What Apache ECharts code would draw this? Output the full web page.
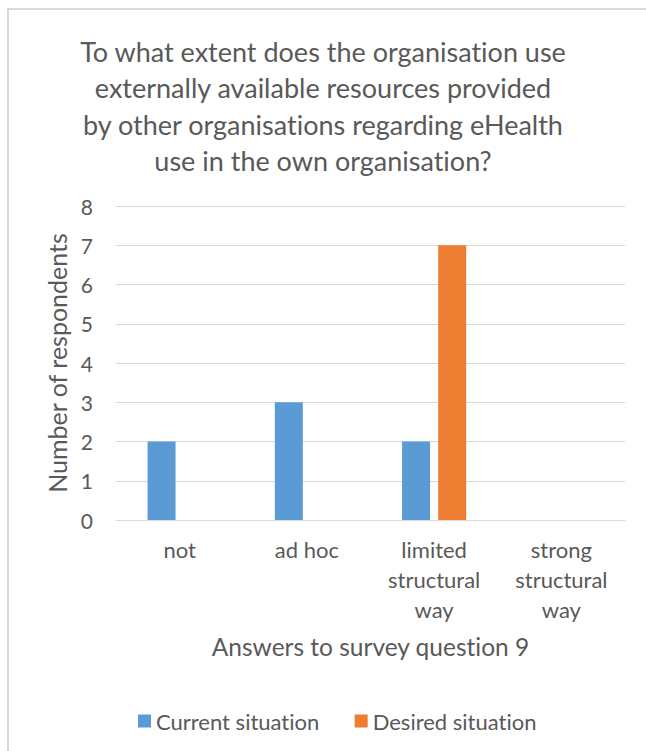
<!DOCTYPE html>
<html>
<head>
<meta charset="utf-8">
<title>eHealth survey question 9</title>
<script src="https://cdn.jsdelivr.net/npm/echarts@6/dist/echarts.min.js"></script>
<style>
  html, body { margin: 0; padding: 0; background: #fff; overflow: hidden; width: 646px; height: 751px; }
  #frame {
    position: absolute; left: 7px; top: 8px; width: 639px; height: 743px;
    border-top: 2px solid #d9d9d9; border-left: 2px solid #d9d9d9;
    box-sizing: border-box;
  }
  #chart { position: absolute; left: 0; top: 0; width: 646px; height: 751px; }
  #chart text { font-variant-ligatures: none; }
</style>
</head>
<body>
<div id="frame"></div>
<div id="chart"></div>
<script>
// data
var categories = ['not', 'ad hoc', 'limited\nstructural\nway', 'strong\nstructural\nway'];
var currentSituation = [2, 3, 2, 0];
var desiredSituation = [0, 0, 7, 0];
var seriesNames = ['Current situation', 'Desired situation'];

var textColor = '#595959';
var fontName = 'Lato';

var myChart = echarts.init(document.getElementById('chart'), null, { renderer: 'svg' });

var option = {
  textStyle: { fontFamily: fontName, color: textColor },
  title: {
    text: 'To what extent does the organisation use\nexternally available resources provided\nby other organisations regarding eHealth\nuse in the own organisation?',
    left: 'center',
    top: 28,
    textStyle: {
      fontFamily: fontName,
      fontSize: 27,
      fontWeight: 'normal',
      color: textColor,
      lineHeight: 36.5
    }
  },
  legend: {
    data: seriesNames,
    left: 133,
    top: 705,
    icon: 'rect',
    itemWidth: 13,
    itemHeight: 13,
    itemGap: 35,
    textStyle: { fontFamily: fontName, fontSize: 22, color: textColor }
  },
  grid: {
    left: 116,
    right: 21,
    top: 206,
    bottom: 231,
    containLabel: false
  },
  xAxis: {
    type: 'category',
    data: categories,
    name: 'Answers to survey question 9',
    nameLocation: 'middle',
    nameGap: 114,
    nameTextStyle: { fontFamily: fontName, fontSize: 24.5, color: textColor },
    axisLine: { show: true, lineStyle: { color: '#d9d9d9', width: 1 } },
    axisTick: { show: false },
    axisLabel: {
      fontFamily: fontName,
      fontSize: 22,
      color: textColor,
      lineHeight: 30,
      margin: 14,
      interval: 0
    }
  },
  yAxis: {
    type: 'value',
    min: 0,
    max: 8,
    interval: 1,
    name: 'Number of respondents',
    nameLocation: 'middle',
    nameGap: 38,
    nameTextStyle: { fontFamily: fontName, fontSize: 25, color: textColor },
    axisLine: { show: false },
    axisTick: { show: false },
    axisLabel: { fontFamily: fontName, fontSize: 21, color: textColor, margin: 23, padding: [0, 0, 2, 0] },
    splitLine: { lineStyle: { color: '#d9d9d9', width: 1 } }
  },
  series: [
    {
      name: seriesNames[0],
      type: 'bar',
      data: currentSituation,
      barWidth: 28,
      barGap: '29%',
      itemStyle: { color: '#5b9bd5' }
    },
    {
      name: seriesNames[1],
      type: 'bar',
      data: desiredSituation,
      barWidth: 28,
      barGap: '29%',
      itemStyle: { color: '#ed7d31' }
    }
  ]
};

myChart.setOption(option);
</script>
</body>
</html>
